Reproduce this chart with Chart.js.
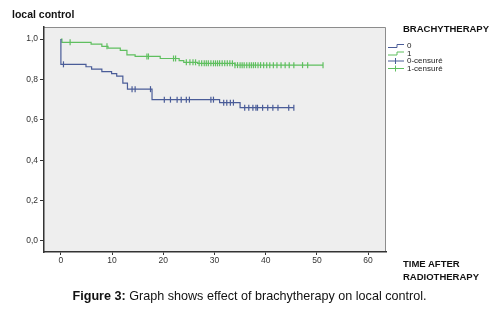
<!DOCTYPE html>
<html>
<head>
    <title>local control</title>
    <style>
        body { margin: 0; background: #fff; font-family: 'Liberation Sans', Arial, sans-serif; }
        #wrap { position: relative; width: 499px; height: 314px; }
        #wrap canvas { position: absolute; left: 0; top: 0; }
        .lbl { position: absolute; color: #111; font-weight: bold; white-space: nowrap; }
        #caption { position: absolute; left: 0; width: 499px; top: 289px; text-align: center; font-size: 12.6px; color: #111; }
    </style>
    <script src="https://cdn.jsdelivr.net/npm/chart.js@4.4.1/dist/chart.umd.min.js"></script>
</head>
<body>
<div id="wrap">
    <canvas id="myChart" width="499" height="314"></canvas>
    <div class="lbl" style="left:12px; top:8px; font-size:10.5px;">local control</div>
    <div class="lbl" style="left:403px; top:23px; font-size:9.5px;">BRACHYTHERAPY</div>
    <div class="lbl" style="left:403px; top:258px; font-size:9.5px; line-height:12.5px;">TIME AFTER<br>RADIOTHERAPY</div>
    <div id="caption"><b>Figure 3:</b> Graph shows effect of brachytherapy on local control.</div>
</div>

<script>
    // survival steps: time and value after the event
    var times0 = [0, 0, 4.9, 6.0, 8.0, 9.9, 10.9, 12.1, 13.0, 17.8, 31.0, 35.0, 45.5];
    var surv0 = [1.0, 0.875, 0.863, 0.851, 0.839, 0.829, 0.817, 0.782, 0.752, 0.70, 0.685, 0.66, 0.66];
    var censor0 = [0.5, 13.9, 14.5, 17.5, 20.2, 21.4, 22.7, 23.5, 24.5, 25.1, 29.3, 29.8, 31.8, 32.4,
        33.1, 33.7, 35.9, 36.7, 37.5, 38.1, 38.4, 39.4, 40.4, 41.4, 42.4, 44.5, 45.5];

    var times1 = [0, 0.2, 5.9, 8.0, 9.2, 11.6, 12.9, 14.5, 19.4, 23.1, 24.0, 26.7, 34.0, 51.2];
    var surv1 = [1.0, 0.984, 0.975, 0.964, 0.955, 0.944, 0.922, 0.914, 0.904, 0.893, 0.885, 0.88, 0.871, 0.871];
    var censor1 = [1.8, 9.0, 16.8, 17.1, 22.0, 22.4, 24.5, 25.2, 25.8, 26.3, 27.0, 27.5, 28.0, 28.4, 28.8,
        29.3, 29.8, 30.2, 30.6, 31.0, 31.5, 32.0, 32.5, 33.0, 33.5, 34.0, 34.5, 35.0, 35.4, 35.8, 36.3,
        36.8, 37.2, 37.6, 38.0, 38.5, 39.0, 39.6, 40.2, 40.8, 41.5, 42.2, 43.0, 43.8, 44.6, 45.5, 47.2,
        48.2, 51.2];

    var xTicks = [0, 10, 20, 30, 40, 50, 60];
    var yTicks = [0, 0.2, 0.4, 0.6, 0.8, 1.0];
    var legendLabels = ['0', '1', '0-censuré', '1-censuré'];

    var blue = '#4a5c98';
    var green = '#5fbf5f';

    function toPoints(t, s) {
        return t.map(function (v, i) { return { x: v, y: s[i] }; });
    }
    // censored marks sit on the curve at their time
    function onCurve(t, s, c) {
        return c.map(function (v) {
            var y = s[0];
            for (var i = 0; i < t.length; i++) { if (t[i] <= v) y = s[i]; }
            return { x: v, y: y };
        });
    }

    var areaPlugin = {
        id: 'area',
        beforeDraw: function (chart) {
            var a = chart.chartArea, ctx = chart.ctx;
            ctx.save();
            ctx.fillStyle = '#eeeeee';
            ctx.fillRect(a.left, a.top, a.right - a.left, a.bottom - a.top);
            ctx.strokeStyle = '#8c8c8c';
            ctx.lineWidth = 1;
            ctx.beginPath();
            ctx.moveTo(a.left, a.top + 0.5);
            ctx.lineTo(a.right - 0.5, a.top + 0.5);
            ctx.lineTo(a.right - 0.5, a.bottom);
            ctx.stroke();
            ctx.restore();
        },
        afterDraw: function (chart) {
            // legend
            var ctx = chart.ctx;
            var cols = [blue, green, blue, green];
            var x0 = 388, y0 = 46;
            ctx.save();
            ctx.font = '8px "Liberation Sans", Arial, sans-serif';
            ctx.textBaseline = 'middle';
            ctx.lineWidth = 1;
            legendLabels.forEach(function (l, i) {
                var y = y0 + i * 7.5;
                ctx.strokeStyle = cols[i];
                ctx.beginPath();
                if (i < 2) {
                    ctx.moveTo(x0, y + 1.5);
                    ctx.lineTo(x0 + 9, y + 1.5);
                    ctx.lineTo(x0 + 9, y - 1.5);
                    ctx.lineTo(x0 + 16, y - 1.5);
                } else {
                    ctx.moveTo(x0, y);
                    ctx.lineTo(x0 + 16, y);
                    ctx.moveTo(x0 + 7.5, y - 3);
                    ctx.lineTo(x0 + 7.5, y + 3);
                }
                ctx.stroke();
                ctx.fillStyle = '#222';
                ctx.fillText(l, x0 + 19, y);
            });
            ctx.restore();
        }
    };

    var tickFont = { family: '"Liberation Sans", Arial, sans-serif', size: 8.5 };

    var ctx = document.getElementById('myChart').getContext('2d');
    var myChart = new Chart(ctx, {
        type: 'scatter',
        data: {
            datasets: [{
                label: '0',
                data: toPoints(times0, surv0),
                showLine: true,
                stepped: true,
                borderColor: blue,
                borderWidth: 1.2,
                pointRadius: 0
            }, {
                label: '1',
                data: toPoints(times1, surv1),
                showLine: true,
                stepped: true,
                borderColor: green,
                borderWidth: 1.2,
                pointRadius: 0
            }, {
                label: '0-censuré',
                data: onCurve(times0, surv0, censor0),
                showLine: false,
                pointStyle: 'line',
                rotation: 90,
                pointRadius: 3,
                borderColor: blue,
                borderWidth: 1.2
            }, {
                label: '1-censuré',
                data: onCurve(times1, surv1, censor1),
                showLine: false,
                pointStyle: 'line',
                rotation: 90,
                pointRadius: 3,
                borderColor: green,
                borderWidth: 1.2
            }]
        },
        options: {
            responsive: false,
            animation: false,
            layout: { padding: { left: 0, top: 27, right: 113, bottom: 42 } },
            plugins: { legend: { display: false }, tooltip: { enabled: false } },
            scales: {
                x: {
                    type: 'linear',
                    min: -3.3,
                    max: 63.5,
                    afterBuildTicks: function (s) { s.ticks = xTicks.map(function (v) { return { value: v }; }); },
                    afterFit: function (s) { s.height = 20; },
                    border: { color: '#333', width: 1.5 },
                    grid: { drawOnChartArea: false, tickLength: 3, color: '#333' },
                    ticks: { font: tickFont, color: '#333', padding: 1, maxRotation: 0 }
                },
                y: {
                    type: 'linear',
                    min: -0.055,
                    max: 1.06,
                    afterBuildTicks: function (s) { s.ticks = yTicks.map(function (v) { return { value: v }; }); },
                    afterFit: function (s) { s.width = 44; },
                    border: { color: '#333', width: 1.5 },
                    grid: { drawOnChartArea: false, tickLength: 4, color: '#333' },
                    ticks: {
                        font: tickFont, color: '#333', padding: 2,
                        callback: function (v) { return v.toFixed(1).replace('.', ','); }
                    }
                }
            }
        },
        plugins: [areaPlugin]
    });
</script>
</body>
</html>
